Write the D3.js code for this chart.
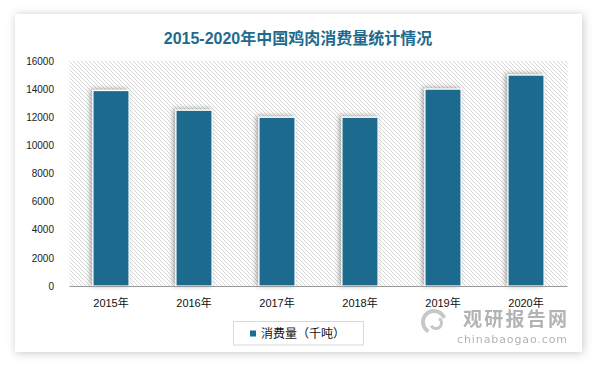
<!DOCTYPE html>
<html><head><meta charset="utf-8">
<script src="https://cdn.jsdelivr.net/npm/d3@7/dist/d3.min.js"></script>
<style>html,body{margin:0;padding:0;background:#fff;}svg{display:block;}</style>
</head><body>
<svg id="c" width="595" height="365"></svg>
<script>
const categories = ["2015年","2016年","2017年","2018年","2019年","2020年"];
const values = [13900, 12500, 12000, 12000, 14000, 15000];
const yTicks = [0,2000,4000,6000,8000,10000,12000,14000,16000];
const title = "2015-2020年中国鸡肉消费量统计情况";
const seriesName = "消费量（千吨）";

const svg = d3.select("#c");
const defs = svg.append("defs");
const cardF = defs.append("filter").attr("id","cardShadow").attr("x","-10%").attr("y","-10%").attr("width","120%").attr("height","120%");
cardF.append("feDropShadow").attr("dx",1).attr("dy",1).attr("stdDeviation",5).attr("flood-color","#000").attr("flood-opacity",0.22);
const barF = defs.append("filter").attr("id","barShadow").attr("x","-40%").attr("y","-20%").attr("width","160%").attr("height","140%");
barF.append("feDropShadow").attr("dx",-2).attr("dy",-1).attr("stdDeviation",2.5).attr("flood-color","#000").attr("flood-opacity",0.35);
const pat = defs.append("pattern").attr("id","hatch").attr("patternUnits","userSpaceOnUse")
  .attr("width",4).attr("height",4);
pat.append("rect").attr("width",4).attr("height",4).attr("fill","#fff");
pat.append("path").attr("d","M-1,-1 L5,5 M-1,3 L1,5 M3,-1 L5,1").attr("stroke","#d6d6d6").attr("stroke-width",1);

// card
svg.append("rect").attr("x",15).attr("y",14).attr("width",567).attr("height",338)
  .attr("fill","#fff").attr("filter","url(#cardShadow)");

// title
svg.append("text").attr("x",298).attr("y",44).attr("text-anchor","middle")
  .attr("font-family","'Liberation Sans','Noto Sans CJK SC',sans-serif").attr("font-weight","bold")
  .attr("font-size",16).attr("fill","#1f6b8f").text(title);

const x = d3.scaleBand().domain(categories).range([69.5,567.5]).paddingInner(0.565).paddingOuter(0.2825);
const y = d3.scaleLinear().domain([0,16000]).range([286,61]);

// plot background hatch
svg.append("rect").attr("x",69.5).attr("y",y(16000)).attr("width",498).attr("height",y(0)-y(16000))
  .attr("fill","url(#hatch)");

// bars
svg.append("g").selectAll("rect").data(values).join("rect")
  .attr("x",(d,i)=>x(categories[i])).attr("y",d=>y(d))
  .attr("width",x.bandwidth()).attr("height",d=>y(0)-y(d))
  .attr("fill","#1d6b8e").attr("stroke","#fff").attr("stroke-width",1.2)
  .attr("filter","url(#barShadow)");

// y axis
const ya = svg.append("g").attr("transform","translate(54,0)")
  .call(d3.axisLeft(y).tickValues(yTicks).tickSize(0).tickPadding(0).tickFormat(d3.format("d")));
ya.select(".domain").remove();
ya.selectAll("text").attr("font-family","'Liberation Sans',sans-serif").attr("font-size",10).attr("fill","#222");

// x axis
const xa = svg.append("g").attr("transform",`translate(0,${y(0)})`)
  .call(d3.axisBottom(x).tickSize(0).tickPadding(13));
xa.select(".domain").attr("stroke","#9a9a9a").attr("stroke-width",1.2).attr("d","M69.5,0.5H567.5");
xa.selectAll("text").attr("font-family","'Liberation Sans','Noto Sans CJK SC',sans-serif").attr("font-size",11).attr("fill","#111");

// legend
svg.append("rect").attr("x",233.5).attr("y",321.5).attr("width",130).attr("height",23.5)
  .attr("fill","#fff").attr("stroke","#d9d9d9");
svg.append("rect").attr("x",250).attr("y",330.5).attr("width",6).attr("height",6).attr("fill","#1d6b8e");
svg.append("text").attr("x",261).attr("y",338).attr("font-family","'Noto Sans CJK SC',sans-serif")
  .attr("font-size",12).attr("fill","#111").text(seriesName);

// watermark
const wm = svg.append("g").attr("opacity",0.75);
wm.append("path").attr("d", d3.arc()({innerRadius:9,outerRadius:13,startAngle:-2.6,endAngle:1.2}))
  .attr("transform","translate(434,322)").attr("fill","#b5b5b5");
wm.append("path").attr("d", d3.arc()({innerRadius:4,outerRadius:7,startAngle:0.6,endAngle:4.2}))
  .attr("transform","translate(436,323)").attr("fill","#b5b5b5");
wm.append("text").attr("x",463).attr("y",326).attr("font-family","'Noto Sans CJK SC',sans-serif")
  .attr("font-weight","bold").attr("font-size",19).attr("fill","#9a9a9a").attr("textLength",104).text("观研报告网");
wm.append("text").attr("x",457).attr("y",343).attr("font-family","'DejaVu Sans',sans-serif")
  .attr("font-size",11).attr("fill","#9a9a9a").attr("textLength",110).text("chinabaogao.com");
</script>
</body></html>
